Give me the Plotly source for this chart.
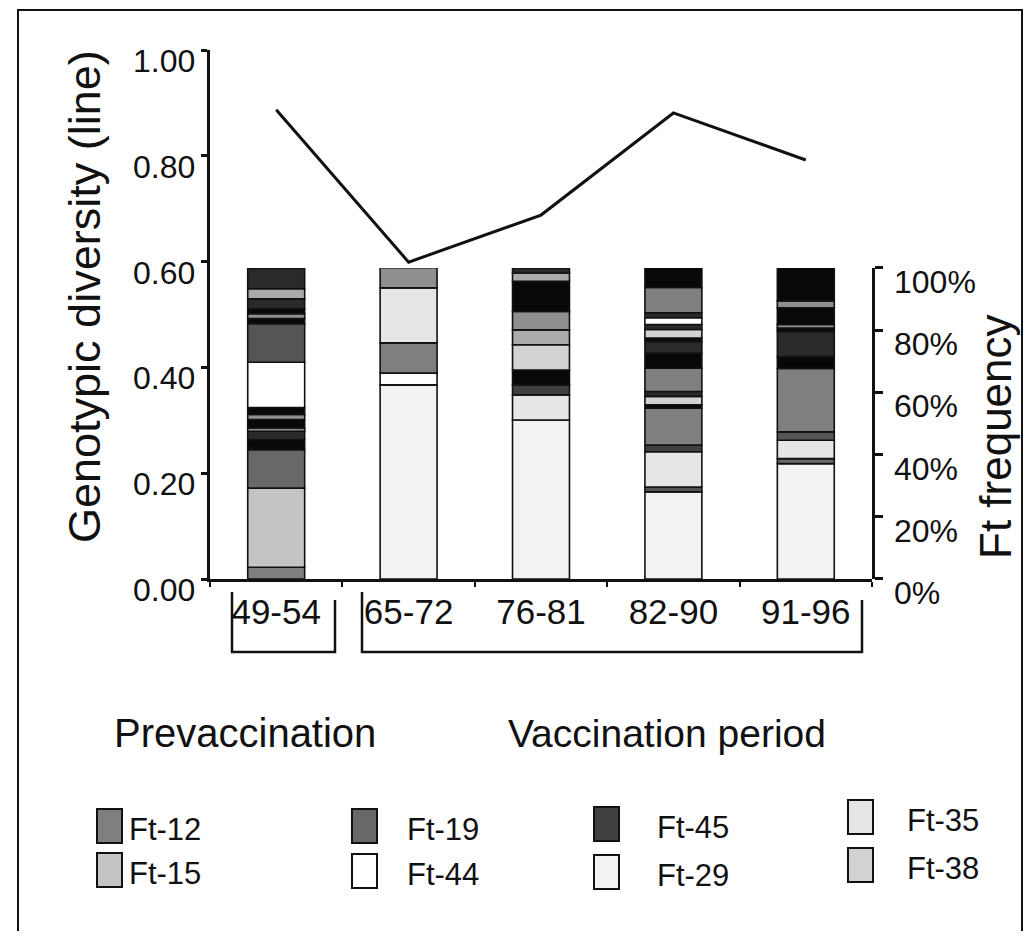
import plotly.graph_objects as go

# ---------------- data ----------------
periods = ["49-54", "65-72", "76-81", "82-90", "91-96"]
diversity = [0.887, 0.599, 0.688, 0.881, 0.792]

# Ft genotype frequencies (%) per period, listed bottom -> top
types_4954 = ["Ft-12", "Ft-15", "Ft-19", "Other-1", "Other-2", "Other-3", "Other-1", "Other-3",
              "Other-1", "Ft-44", "Other-4", "Other-1", "Other-3", "Other-1", "Other-2", "Other-5", "Other-2"]
freq_4954 = [3.8, 25.4, 12.4, 3.2, 2.7, 1.1, 2.7, 1.6, 2.2, 14.6, 12.4, 1.6, 1.6, 1.6, 3.2, 3.2, 6.5]

types_6572 = ["Ft-29", "Ft-44", "Ft-12", "Ft-35", "Other-3"]
freq_6572 = [62.4, 3.8, 9.7, 17.7, 6.5]

types_7681 = ["Ft-29", "Ft-35", "Ft-45", "Other-1", "Ft-38", "Other-5", "Other-3", "Other-1", "Other-5", "Other-2"]
freq_7681 = [51.1, 8.1, 3.2, 4.8, 8.1, 4.8, 5.9, 9.7, 2.7, 1.6]

types_8290 = ["Ft-29", "Other-4", "Ft-35", "Ft-45", "Ft-12", "Other-1", "Ft-38", "Other-2", "Ft-12",
              "Other-1", "Other-2", "Other-1", "Ft-38", "Other-2", "Ft-44", "Other-2", "Ft-12", "Other-1"]
freq_8290 = [28.0, 1.6, 11.3, 2.2, 11.8, 1.1, 2.7, 1.6, 7.5, 4.8, 3.8, 1.1, 2.7, 1.6, 2.2, 1.6, 8.1, 6.5]

types_9196 = ["Ft-29", "Ft-19", "Ft-35", "Other-4", "Ft-12", "Other-1", "Other-2", "Other-1",
              "Other-3", "Other-1", "Other-3", "Other-1"]
freq_9196 = [37.1, 1.6, 5.9, 2.7, 20.4, 3.8, 8.1, 1.1, 1.1, 5.4, 2.2, 10.8]

legend_names = ["Ft-12", "Ft-15", "Ft-19", "Ft-44", "Ft-45", "Ft-29", "Ft-35", "Ft-38"]

left_ticks = [0.0, 0.2, 0.4, 0.6, 0.8, 1.0]
right_ticks = [0, 20, 40, 60, 80, 100]

# ---------------- styles ----------------
colors = {
    "Ft-12": "#7f7f7f", "Ft-15": "#c4c4c4", "Ft-19": "#686868", "Ft-44": "#ffffff",
    "Ft-45": "#404040", "Ft-29": "#f2f2f2", "Ft-35": "#e6e6e6", "Ft-38": "#d2d2d2",
    "Other-1": "#080808", "Other-2": "#2a2a2a", "Other-3": "#8f8f8f",
    "Other-4": "#555555", "Other-5": "#ababab",
}
INK = "#111111"
FONT = "Liberation Sans, Arial, Helvetica, sans-serif"

# page body has an 8px margin; layout is planned in window pixels
OFF = 8
W, H = 1031 - 2 * OFF, 939 - 2 * OFF
PL, PR, PT, PB = 210, 872, 50, 579   # plot area in window pixels


def px(x):
    return (x - PL) / (PR - PL)


def py(y):
    return (PB - y) / (PB - PT)


fig = go.Figure()

bars = [(types_4954, freq_4954), (types_6572, freq_6572), (types_7681, freq_7681),
        (types_8290, freq_8290), (types_9196, freq_9196)]
for period, (types, freqs) in zip(periods, bars):
    base = 0.0
    for t, f in zip(types, freqs):
        fig.add_trace(go.Bar(
            x=[period], y=[f], base=[base], width=0.43, name=t,
            marker=dict(color=colors[t], line=dict(color=INK, width=1.6)),
            yaxis="y2", showlegend=False,
        ))
        base += f

fig.add_trace(go.Scatter(
    x=periods, y=diversity, mode="lines", name="Genotypic diversity",
    line=dict(color=INK, width=3), yaxis="y", showlegend=False,
))

fig.update_layout(
    width=W, height=H,
    margin=dict(l=PL - OFF, r=W - (PR - OFF), t=PT - OFF, b=H - (PB - OFF), autoexpand=False),
    paper_bgcolor="white", plot_bgcolor="white",
    barmode="overlay",
    showlegend=False,
    font=dict(family=FONT, color=INK),
    xaxis=dict(
        type="category", range=[-0.5, 4.5], showline=True, linecolor=INK, linewidth=2.5,
        ticks="outside", tickson="boundaries", ticklen=5, tickwidth=2, tickcolor=INK,
        showgrid=False, zeroline=False, tickfont=dict(family=FONT, size=35, color=INK),
        anchor="y", automargin=False,
    ),
    yaxis=dict(
        range=[0, 1], tickvals=left_ticks, showticklabels=False,
        showline=True, linecolor=INK, linewidth=2.5, ticks="outside", ticklen=6,
        tickwidth=2.5, tickcolor=INK, showgrid=False, zeroline=False, automargin=False,
    ),
    yaxis2=dict(
        domain=[0, 0.588], range=[0, 100], tickvals=right_ticks, showticklabels=False,
        anchor="x", side="right", showline=True, linecolor=INK, linewidth=2.5,
        ticks="outside", ticklen=8, tickwidth=2.5, tickcolor=INK, showgrid=False, zeroline=False,
        automargin=False,
    ),
)

annotations = [
    dict(text="Genotypic diversity (line)", x=px(84), y=py(297), textangle=-90,
         font=dict(family=FONT, size=45, color=INK)),
    dict(text="Ft frequency", x=px(995), y=py(437), textangle=-90,
         font=dict(family=FONT, size=44, color=INK)),
    dict(text="Prevaccination", x=px(245), y=py(733), font=dict(family=FONT, size=40, color=INK)),
    dict(text="Vaccination period", x=px(667), y=py(733), font=dict(family=FONT, size=39, color=INK)),
]

# axis tick labels (sit slightly below their ticks, as in the original)
for v in left_ticks:
    annotations.append(dict(text=f"{v:.2f}", x=0, xanchor="right", xshift=-13, y=v, yref="y",
                            yshift=-11, font=dict(family=FONT, size=32, color=INK)))
for v in right_ticks:
    annotations.append(dict(text=f"{v}%", x=1, xanchor="left", xshift=20, y=v, yref="y2",
                            yshift=-14, font=dict(family=FONT, size=32, color=INK)))

shapes = []

# brackets under the category labels
for x0, x1 in [(232, 335), (362, 862)]:
    shapes.append(dict(type="path", xref="paper", yref="paper",
                       path=f"M {px(x0)},{py(592)} L {px(x0)},{py(652)} L {px(x1)},{py(652)} L {px(x1)},{py(600)}",
                       line=dict(color=INK, width=2.5)))

# legend (4 columns x 2 rows)
col_x = [97, 352, 594, 848]
text_x = [127, 405, 655, 905]
row_y = [[826, 870], [826, 871], [824, 872], [817, 865]]
for i, name in enumerate(legend_names):
    c, r = i // 2, i % 2
    yc = row_y[c][r]
    shapes.append(dict(type="rect", xref="paper", yref="paper",
                       x0=px(col_x[c]), x1=px(col_x[c] + 25), y0=py(yc + 17), y1=py(yc - 17),
                       fillcolor=colors[name], line=dict(color=INK, width=2)))
    annotations.append(dict(text=name, x=px(text_x[c]), y=py(yc + 3), xanchor="left",
                            font=dict(family=FONT, size=31, color=INK)))

# figure frame
shapes.append(dict(type="rect", xref="paper", yref="paper",
                   x0=px(18), x1=px(1022), y0=py(960), y1=py(10),
                   line=dict(color=INK, width=2), fillcolor="rgba(0,0,0,0)"))

for a in annotations:
    a.setdefault("xref", "paper")
    a.setdefault("yref", "paper")
    a.setdefault("showarrow", False)
    a.setdefault("xanchor", "center")
    a.setdefault("yanchor", "middle")

fig.update_layout(annotations=annotations, shapes=shapes)

fig.write_html("out.html")
